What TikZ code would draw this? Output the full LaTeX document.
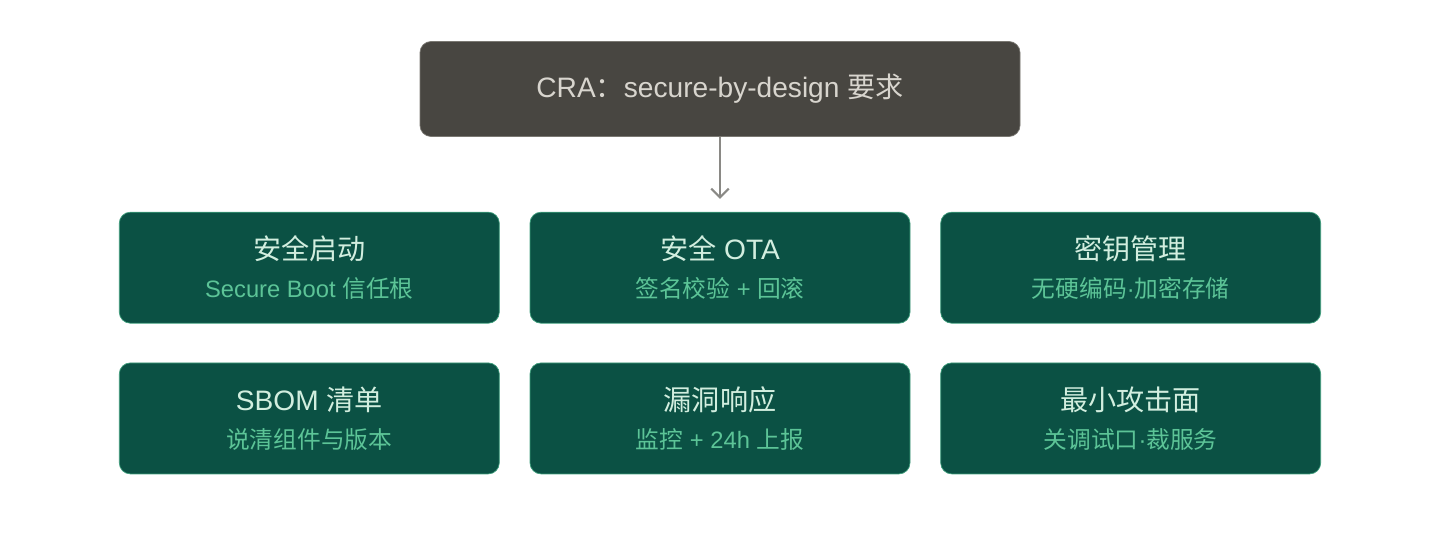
\documentclass[tikz,border=0pt]{standalone}
\usepackage{fontspec}
\setmainfont{Liberation Sans}
\newfontfamily\cjk{Noto Sans CJK SC}
\usetikzlibrary{positioning}
\usetikzlibrary{arrows.meta}
\definecolor{topfill}{HTML}{484641}
\definecolor{topline}{HTML}{7A7872}
\definecolor{toptext}{HTML}{D8D5CE}
\definecolor{boxfill}{HTML}{0B5144}
\definecolor{boxline}{HTML}{3E9E7C}
\definecolor{headtext}{HTML}{D2EEDF}
\definecolor{subtext}{HTML}{5CC497}
\definecolor{arrowgray}{HTML}{8A8985}
\tikzset{
  topbox/.style={draw=topline, fill=topfill, rounded corners=0.22cm, minimum width=12cm, minimum height=1.9cm, text=toptext, font=\fontsize{16}{19}\selectfont},
  itembox/.style={draw=boxline, fill=boxfill, rounded corners=0.22cm, minimum width=7.6cm, minimum height=2.22cm, align=center, font=\fontsize{13.5}{21.5}\selectfont}
}
\newcommand{\itemtext}[2]{{\fontsize{16}{21.5}\selectfont\color{headtext}#1}\\{\color{subtext}#2}}
\begin{document}
\begin{tikzpicture}[node distance=0.6cm and 0.6cm]
		\useasboundingbox (0,0) rectangle (28.8,-10.8);
		\node (cra) [topbox] at (14.4,-1.78) {CRA{\cjk ：}secure-by-design {\cjk 要求}};
		\node (ota) [itembox, below=1.5cm of cra] {\itemtext{{\cjk 安全} OTA}{{\cjk 签名校验} + {\cjk 回滚}}};
		\node (boot) [itembox, left=of ota] {\itemtext{\cjk 安全启动}{Secure Boot {\cjk 信任根}}};
		\node (keys) [itembox, right=of ota] {\itemtext{\cjk 密钥管理}{{\cjk 无硬编码}·{\cjk 加密存储}}};
		\node (vuln) [itembox, below=0.78cm of ota] {\itemtext{\cjk 漏洞响应}{{\cjk 监控} + 24h {\cjk 上报}}};
		\node (sbom) [itembox, left=of vuln] {\itemtext{SBOM {\cjk 清单}}{\cjk 说清组件与版本}};
		\node (surf) [itembox, right=of vuln] {\itemtext{\cjk 最小攻击面}{{\cjk 关调试口}·{\cjk 裁服务}}};
		\draw [-{Straight Barb[length=5pt,width=10pt]}, arrowgray, line width=1.2pt, shorten >=0.26cm] (cra) -- (ota);
\end{tikzpicture}
\end{document}
